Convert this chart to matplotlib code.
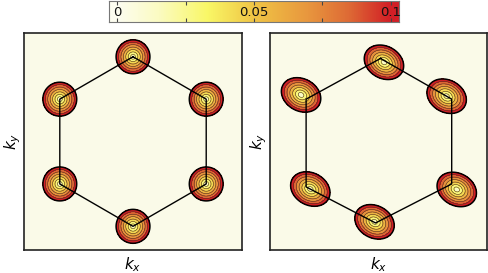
import numpy as np
import matplotlib.pyplot as plt
from matplotlib.colors import LinearSegmentedColormap

plt.rcParams['mathtext.fontset'] = 'dejavusans'

# hexagon vertices (top, upper-right, lower-right, bottom, lower-left, upper-left)
left_vx = [0.0, 0.866, 0.866, 0.0, -0.866, -0.866]
left_vy = [1.0, 0.5, -0.5, -1.0, -0.5, 0.5]
right_vx = [0.024, 0.87, 0.87, -0.035, -0.86, -0.86]
right_vy = [0.98, 0.50, -0.50, -0.96, -0.535, 0.50]

# cone centres
left_cx = left_vx
left_cy = left_vy
right_cx = [0.065, 0.81, 0.93, -0.047, -0.81, -0.92]
right_cy = [0.935, 0.535, -0.565, -0.947, -0.56, 0.55]

# cone shape: semi-axes at value 0.1 and tilt angle (deg)
left_a, left_b, left_ang = 0.20, 0.20, 0.0
right_a, right_b, right_ang = 0.245, 0.19, -28.0

levels = np.linspace(0, 0.1, 8)
cbar_ticks = [0, 0.025, 0.05, 0.075, 0.1]
cbar_labels = {0: '0', 0.05: '0.05', 0.1: '0.1'}

cmap = LinearSegmentedColormap.from_list('cone', [
    (0.0, '#FDFDF0'), (0.15, '#FBFBC2'), (0.33, '#F9F766'),
    (0.5, '#F0C545'), (0.7, '#E8963E'), (0.85, '#DE6A35'), (1.0, '#D21F26')])
BG = '#FAFAE8'


def cone_field(X, Y, cx, cy, a, b, ang):
    t = np.deg2rad(ang)
    f = np.full(X.shape, np.inf)
    for x0, y0 in zip(cx, cy):
        dx, dy = X - x0, Y - y0
        u = dx * np.cos(t) + dy * np.sin(t)
        v = -dx * np.sin(t) + dy * np.cos(t)
        f = np.minimum(f, 0.1 * np.sqrt((u / a) ** 2 + (v / b) ** 2))
    return f


def draw_panel(ax, vx, vy, cx, cy, a, b, ang):
    g = np.linspace(-1.4, 1.4, 700)
    X, Y = np.meshgrid(g, g)
    F = cone_field(X, Y, cx, cy, a, b, ang)
    ax.set_facecolor(BG)
    band_colors = [cmap(v / 0.1) for v in levels[1:]]
    ax.contourf(X, Y, F, levels=levels, colors=band_colors)
    ax.contour(X, Y, F, levels=levels[1:-1], colors='#4a2f1a', linewidths=0.4)
    ax.contour(X, Y, F, levels=[0.1], colors='black', linewidths=1.1)
    ax.plot(vx + vx[:1], vy + vy[:1], color='black', lw=1.0)
    ax.set_xlim(-1.29, 1.29)
    ax.set_ylim(-1.28, 1.28)
    ax.set_xticks([])
    ax.set_yticks([])
    for s in ax.spines.values():
        s.set_linewidth(1.2)
        s.set_color('#222222')
    ax.set_xlabel('$k_x$', fontsize=11, labelpad=4)
    ax.set_ylabel('$k_y$', fontsize=11, labelpad=1)


fig = plt.figure(figsize=(4.89, 2.73), dpi=100)
ax1 = fig.add_axes([0.049, 0.084, 0.446, 0.795])
ax2 = fig.add_axes([0.552, 0.084, 0.444, 0.795])
cax = fig.add_axes([0.223, 0.919, 0.593, 0.077])

draw_panel(ax1, left_vx, left_vy, left_cx, left_cy, left_a, left_b, left_ang)
draw_panel(ax2, right_vx, right_vy, right_cx, right_cy, right_a, right_b, right_ang)

grad = np.linspace(-0.003, 0.103, 400)[None, :]
cax.imshow(grad, cmap=cmap, vmin=0, vmax=0.1, aspect='auto',
           extent=[-0.003, 0.103, 0, 1])
cax.set_xlim(-0.003, 0.103)
cax.set_yticks([])
cax.set_xticks(cbar_ticks)
cax.set_xticklabels([])
cax.tick_params(axis='x', direction='in', top=True, bottom=True, length=3,
                width=0.8, color='#444444')
for s in cax.spines.values():
    s.set_color('#777777')
    s.set_linewidth(0.8)
for v, lab in cbar_labels.items():
    cax.text(v, 0.45, lab, ha='center', va='center', fontsize=9.5, color='#111111')

fig.savefig('out.png', dpi=100)
